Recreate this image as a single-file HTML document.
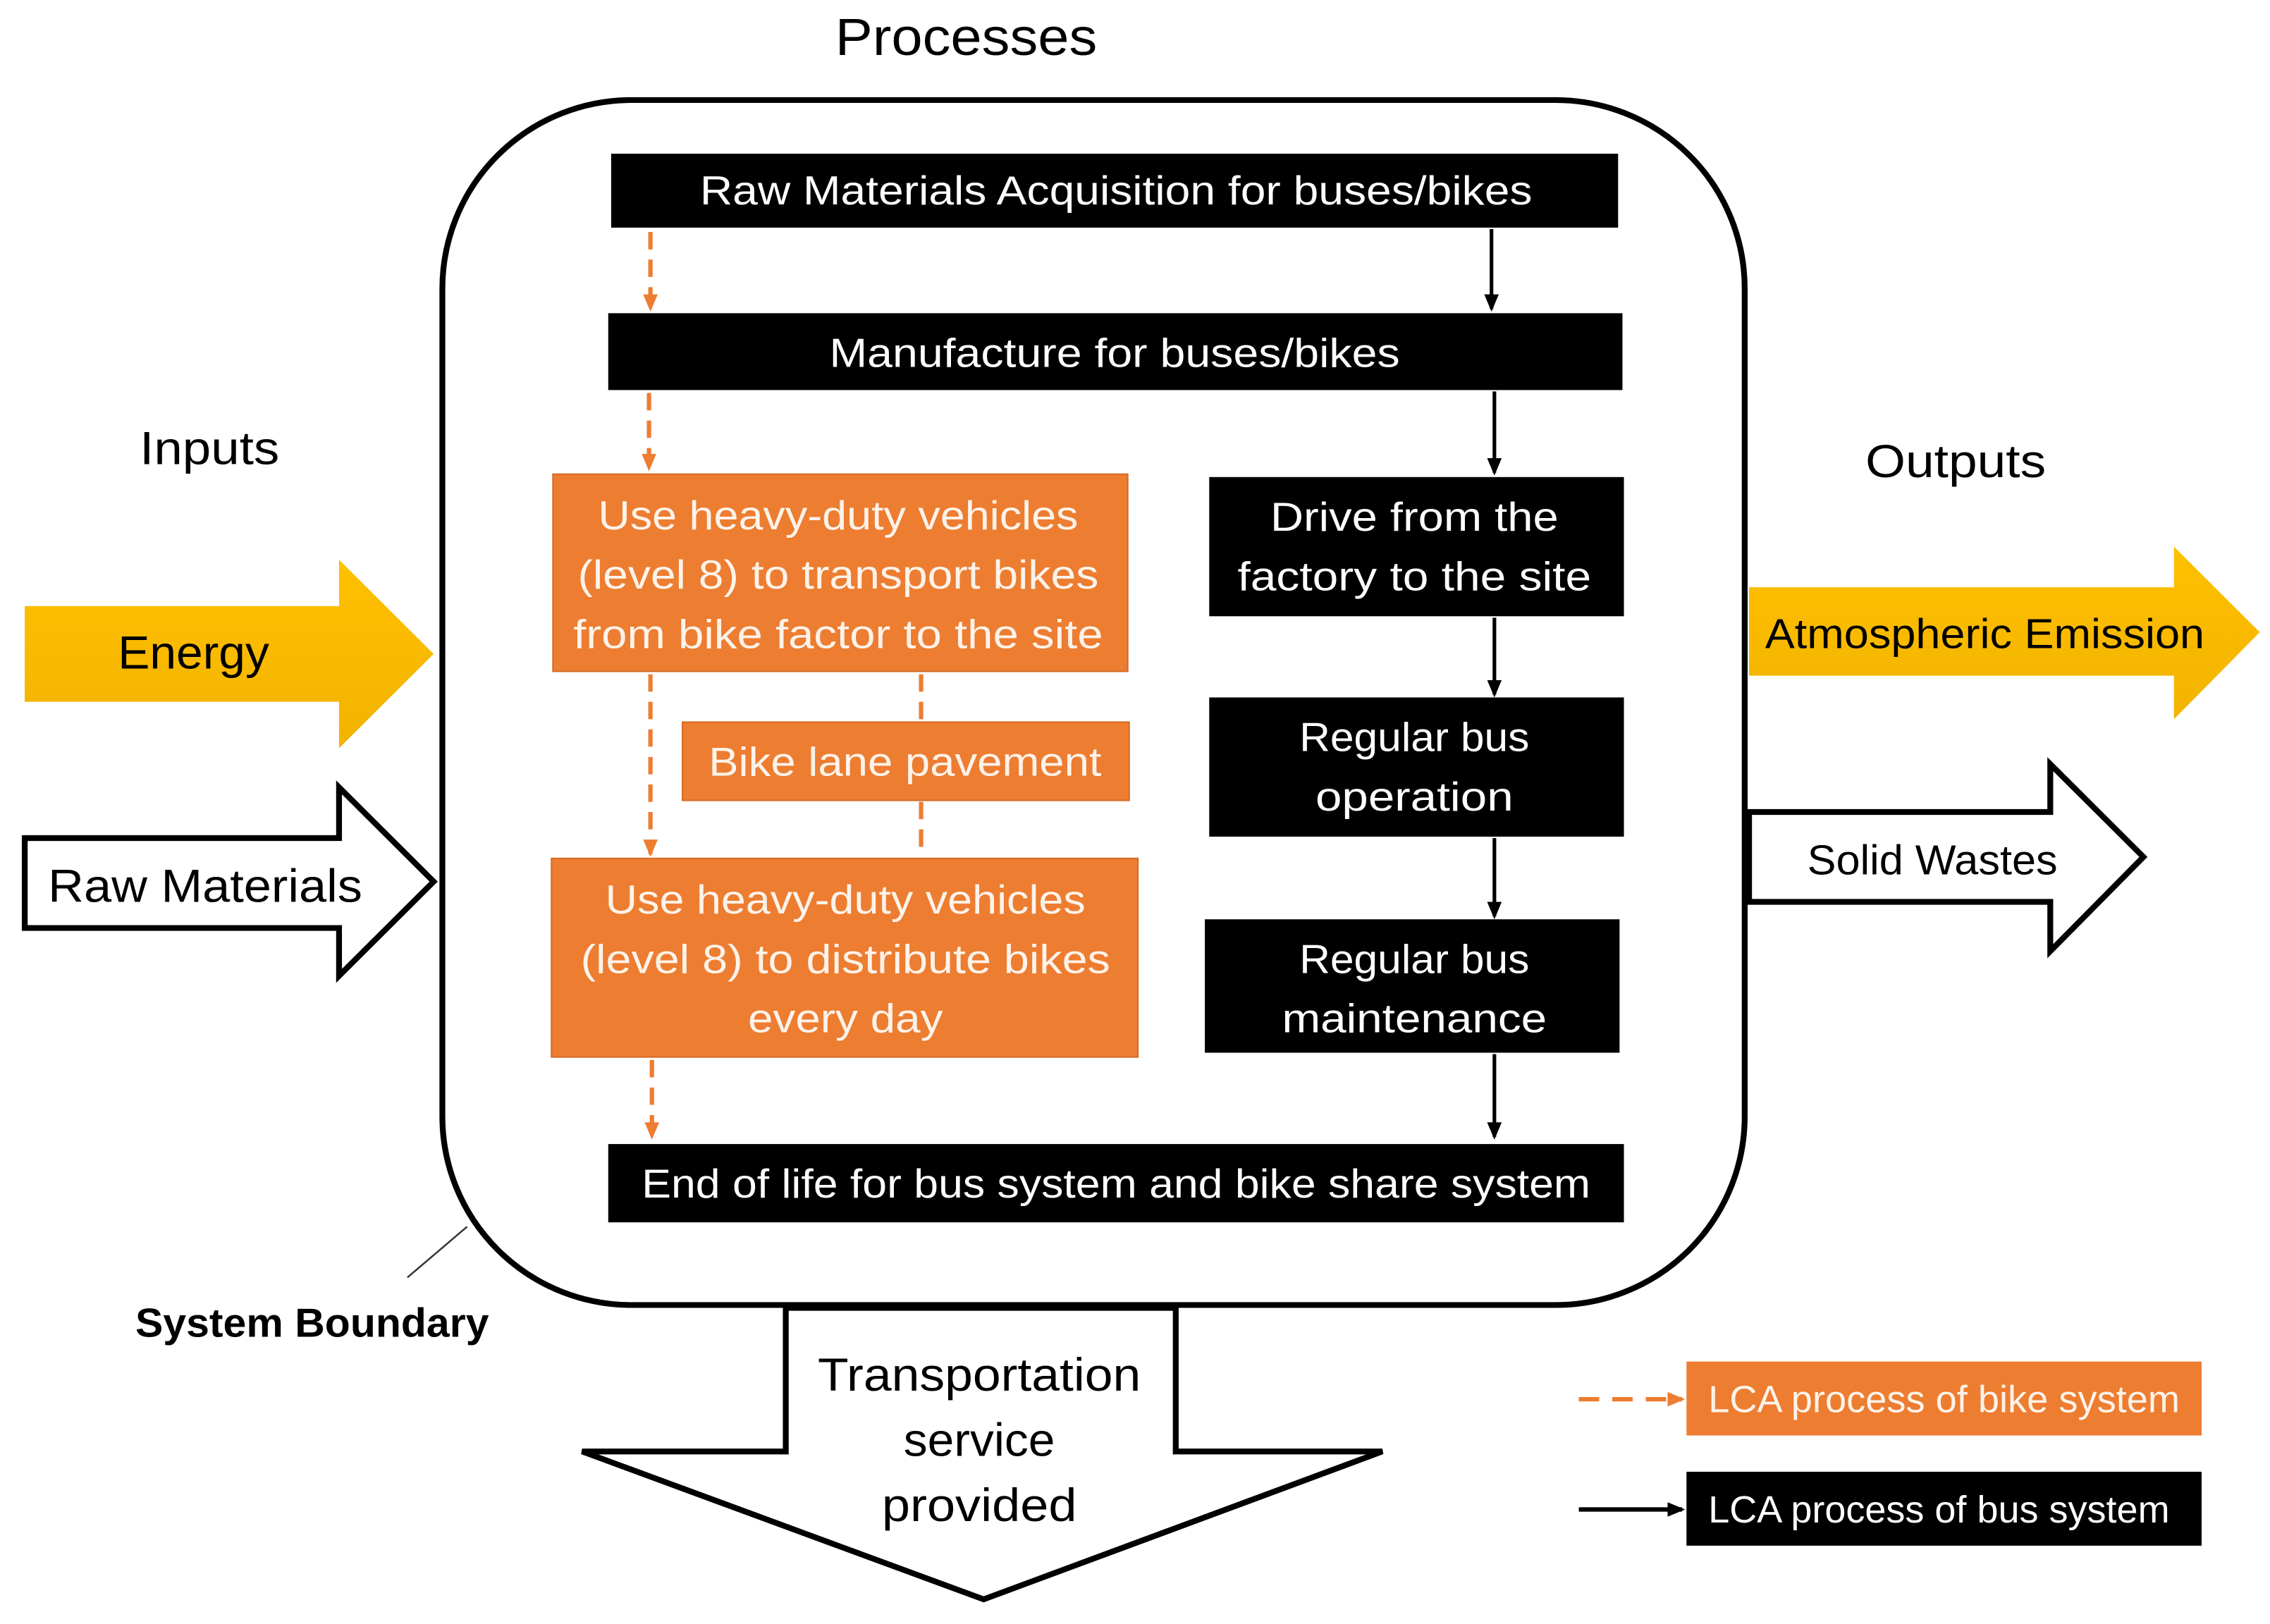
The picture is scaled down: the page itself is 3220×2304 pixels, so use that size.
<!DOCTYPE html>
<html><head><meta charset="utf-8"><style>html,body{margin:0;padding:0;background:#fff}svg{display:block}</style></head>
<body>
<svg width="3220" height="2304" viewBox="0 0 1560 1120" preserveAspectRatio="none" xmlns="http://www.w3.org/2000/svg" font-family="Liberation Sans, sans-serif">
<defs>
<linearGradient id="g" x1="0" y1="0" x2="0" y2="1"><stop offset="0" stop-color="#ffc000"/><stop offset="1" stop-color="#f2b300"/></linearGradient>
<marker id="ao" markerWidth="12" markerHeight="12" refX="10" refY="6" orient="auto" markerUnits="userSpaceOnUse"><path d="M0,1 L12,6 L0,11 z" fill="#ed7d31"/></marker>
<marker id="ab" markerWidth="12" markerHeight="12" refX="10" refY="6" orient="auto" markerUnits="userSpaceOnUse"><path d="M0,1 L12,6 L0,11 z" fill="#000"/></marker>
</defs>

<text x="664" y="38" font-size="36" text-anchor="middle" textLength="180" lengthAdjust="spacingAndGlyphs">Processes</text>
<rect x="304" y="69" width="895" height="831" rx="130" ry="130" fill="none" stroke="#000" stroke-width="4"/>

<g fill="#000">
<rect x="420" y="106" width="692" height="51"/>
<rect x="418" y="216" width="697" height="53"/>
<rect x="831" y="329" width="285" height="96"/>
<rect x="831" y="481" width="285" height="96"/>
<rect x="828" y="634" width="285" height="92"/>
<rect x="418" y="789" width="698" height="54"/>
</g>
<g fill="#ed7d31" stroke="#d46a25" stroke-width="1">
<rect x="380" y="327" width="395" height="136"/>
<rect x="469" y="498" width="307" height="54"/>
<rect x="379" y="592" width="403" height="137"/>
</g>

<g fill="#fff" font-size="28" text-anchor="middle">
<text x="767" y="141" textLength="572" lengthAdjust="spacingAndGlyphs">Raw Materials Acquisition for buses/bikes</text>
<text x="766" y="253" textLength="392" lengthAdjust="spacingAndGlyphs">Manufacture for buses/bikes</text>
<text x="972" y="366" textLength="198" lengthAdjust="spacingAndGlyphs">Drive from the</text>
<text x="972" y="407" textLength="243" lengthAdjust="spacingAndGlyphs">factory to the site</text>
<text x="972" y="518" textLength="158" lengthAdjust="spacingAndGlyphs">Regular bus</text>
<text x="972" y="559" textLength="136" lengthAdjust="spacingAndGlyphs">operation</text>
<text x="972" y="671" textLength="158" lengthAdjust="spacingAndGlyphs">Regular bus</text>
<text x="972" y="712" textLength="182" lengthAdjust="spacingAndGlyphs">maintenance</text>
<text x="767" y="826" textLength="652" lengthAdjust="spacingAndGlyphs">End of life for bus system and bike share system</text>
</g>
<g fill="#fdf3ea" font-size="28" text-anchor="middle">
<text x="576" y="365" textLength="330" lengthAdjust="spacingAndGlyphs">Use heavy-duty vehicles</text>
<text x="576" y="406" textLength="358" lengthAdjust="spacingAndGlyphs">(level 8) to transport bikes</text>
<text x="576" y="447" textLength="364" lengthAdjust="spacingAndGlyphs">from bike factor to the site</text>
<text x="622" y="535" textLength="270" lengthAdjust="spacingAndGlyphs">Bike lane pavement</text>
<text x="581" y="630" textLength="330" lengthAdjust="spacingAndGlyphs">Use heavy-duty vehicles</text>
<text x="581" y="671" textLength="364" lengthAdjust="spacingAndGlyphs">(level 8) to distribute bikes</text>
<text x="581" y="712" textLength="134" lengthAdjust="spacingAndGlyphs">every day</text>
</g>

<g stroke="#000" stroke-width="2.5" fill="none">
<line x1="1025" y1="158" x2="1025" y2="213" marker-end="url(#ab)"/>
<line x1="1027" y1="270" x2="1027" y2="326" marker-end="url(#ab)"/>
<line x1="1027" y1="426" x2="1027" y2="479" marker-end="url(#ab)"/>
<line x1="1027" y1="578" x2="1027" y2="632" marker-end="url(#ab)"/>
<line x1="1027" y1="727" x2="1027" y2="784" marker-end="url(#ab)"/>
</g>
<g stroke="#ed7d31" stroke-width="3" fill="none" stroke-dasharray="12 7">
<line x1="447" y1="160" x2="447" y2="213" marker-end="url(#ao)"/>
<line x1="446" y1="271" x2="446" y2="323" marker-end="url(#ao)"/>
<line x1="447" y1="465" x2="447" y2="589" marker-end="url(#ao)"/>
<line x1="633" y1="465" x2="633" y2="497"/>
<line x1="633" y1="553" x2="633" y2="591"/>
<line x1="448" y1="731" x2="448" y2="784" marker-end="url(#ao)"/>
</g>

<text x="144" y="320" font-size="32" text-anchor="middle" textLength="96" lengthAdjust="spacingAndGlyphs">Inputs</text>
<polygon points="17,418 233,418 233,386 298,451 233,516 233,484 17,484" fill="url(#g)"/>
<text x="133" y="461" font-size="32" text-anchor="middle" textLength="104" lengthAdjust="spacingAndGlyphs">Energy</text>
<polygon points="17,578 233,578 233,543 298,608 233,673 233,640 17,640" fill="#fff" stroke="#000" stroke-width="4"/>
<text x="141" y="622" font-size="32" text-anchor="middle" textLength="216" lengthAdjust="spacingAndGlyphs">Raw Materials</text>

<text x="1344" y="329" font-size="32" text-anchor="middle" textLength="124" lengthAdjust="spacingAndGlyphs">Outputs</text>
<polygon points="1202,405 1494,405 1494,377 1553,436 1494,496 1494,466 1202,466" fill="url(#g)"/>
<text x="1364" y="447" font-size="29" text-anchor="middle" textLength="302" lengthAdjust="spacingAndGlyphs">Atmospheric Emission</text>
<polygon points="1202,560 1409,560 1409,527 1473,591 1409,656 1409,622 1202,622" fill="#fff" stroke="#000" stroke-width="4"/>
<text x="1328" y="603" font-size="29" text-anchor="middle" textLength="172" lengthAdjust="spacingAndGlyphs">Solid Wastes</text>

<line x1="280" y1="881" x2="321" y2="846" stroke="#333" stroke-width="1.2"/>
<text x="93" y="922" font-size="28" font-weight="bold" textLength="243" lengthAdjust="spacingAndGlyphs">System Boundary</text>

<polygon points="540,902 540,1001 400,1001 676,1103 950,1001 808,1001 808,902" fill="#fff" stroke="#000" stroke-width="4"/>
<g font-size="32" text-anchor="middle">
<text x="673" y="959" textLength="222" lengthAdjust="spacingAndGlyphs">Transportation</text>
<text x="673" y="1004" textLength="104" lengthAdjust="spacingAndGlyphs">service</text>
<text x="673" y="1049" textLength="134" lengthAdjust="spacingAndGlyphs">provided</text>
</g>

<line x1="1085" y1="965" x2="1156" y2="965" stroke="#ed7d31" stroke-width="3" stroke-dasharray="14 9" marker-end="url(#ao)"/>
<rect x="1159" y="939" width="354" height="51" fill="#ed7d31"/>
<text x="1174" y="974" font-size="26" fill="#fdf3ea" textLength="324" lengthAdjust="spacingAndGlyphs">LCA process of bike system</text>
<line x1="1085" y1="1041" x2="1156" y2="1041" stroke="#000" stroke-width="3" marker-end="url(#ab)"/>
<rect x="1159" y="1015" width="354" height="51" fill="#000"/>
<text x="1174" y="1050" font-size="26" fill="#fff" textLength="317" lengthAdjust="spacingAndGlyphs">LCA process of bus system</text>
</svg>
</body></html>
